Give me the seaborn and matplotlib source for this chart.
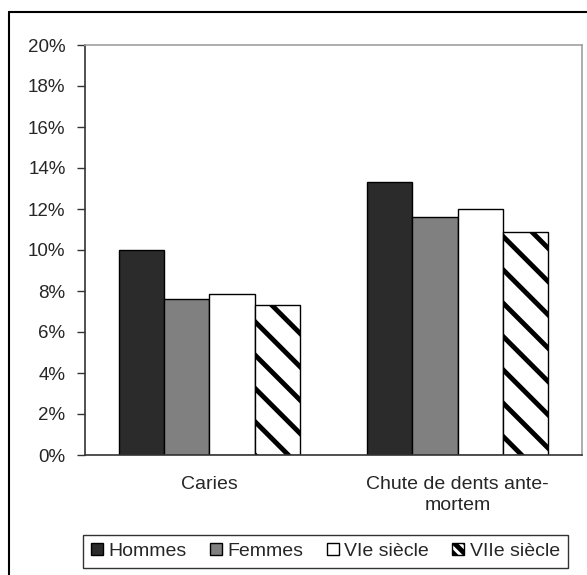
import numpy as np
import pandas as pd
import matplotlib
matplotlib.use("Agg")
import matplotlib.pyplot as plt
from matplotlib.lines import Line2D
from matplotlib.patches import Patch
import seaborn as sns

# data (percent)
categories = ["Caries", "Chute de dents ante-\nmortem"]
groups = ["Hommes", "Femmes", "VIe siècle", "VIIe siècle"]
hommes = [10.0, 13.3]
femmes = [7.6, 11.6]
vie = [7.85, 12.0]
viie = [7.3, 10.9]
yticks = [0, 2, 4, 6, 8, 10, 12, 14, 16, 18, 20]

rows = []
for g, vals in zip(groups, [hommes, femmes, vie, viie]):
    for c, v in zip(categories, vals):
        rows.append({"cat": c, "grp": g, "val": v})
df = pd.DataFrame(rows)

sns.set_style("white")
plt.rcParams["font.family"] = ["Liberation Sans", "DejaVu Sans"]
plt.rcParams["hatch.linewidth"] = 3.5
plt.rcParams["hatch.color"] = "#2b2b2b"

dark = "#2b2b2b"
colors = [dark, "#808080", "white", "white"]

fig = plt.figure(figsize=(5.87, 5.75), dpi=100)
ax = fig.add_axes([85 / 587, 120 / 575, 497 / 587, 410 / 575])

sns.barplot(data=df, x="cat", y="val", hue="grp", hue_order=groups,
            palette=colors, width=0.73, gap=0, edgecolor="black",
            linewidth=1, saturation=1, legend=False, ax=ax)

# hatch the last series
for bar in ax.containers[3]:
    bar.set_hatch("\\")
    bar.set_edgecolor("black")

ax.set_ylim(0, 20)
ax.set_xlim(-0.5, 1.5)
ax.set_yticks(yticks)
ax.set_yticklabels([f"{t}%" for t in yticks], fontsize=13.5)
ax.set_xticks([0, 1])
ax.set_xticklabels(categories, fontsize=14, linespacing=1.35)
ax.set_xticks([-0.5, 0.5, 1.5], minor=True)
ax.tick_params(axis="x", which="major", length=0, pad=15)
ax.tick_params(axis="x", which="minor", length=6, width=1, color="#333333", direction="out")
ax.tick_params(axis="y", length=6, width=1, color="#333333", direction="out", left=True, pad=8)
ax.set_xlabel("")
ax.set_ylabel("")

for s in ["left", "bottom"]:
    ax.spines[s].set_color("#333333")
    ax.spines[s].set_linewidth(1.2)
for s in ["top", "right"]:
    ax.spines[s].set_color("#a0a0a0")
    ax.spines[s].set_linewidth(1.2)

handles = []
for g, c in zip(groups, colors):
    h = Patch(facecolor=c, edgecolor="black", linewidth=1, label=g)
    if g == "VIIe siècle":
        h.set_hatch("\\\\\\")
    handles.append(h)
leg = fig.legend(handles=handles, loc="center", bbox_to_anchor=(325.5 / 587, 1 - 551.5 / 575),
                 ncol=4, frameon=True, fancybox=False, fontsize=14,
                 handlelength=0.6, handleheight=0.6, handletextpad=0.3,
                 columnspacing=1.2, borderpad=0.4, borderaxespad=0)
leg.get_frame().set_edgecolor("black")
leg.get_frame().set_linewidth(1)

# outer chart frame (left and top visible)
fig.add_artist(Line2D([9 / 587, 9 / 587], [0, 1 - 12 / 575], transform=fig.transFigure,
                      color="black", linewidth=1.5))
fig.add_artist(Line2D([9 / 587, 1], [1 - 12 / 575, 1 - 12 / 575], transform=fig.transFigure,
                      color="black", linewidth=1.5))

fig.savefig("out.png", dpi=100)
